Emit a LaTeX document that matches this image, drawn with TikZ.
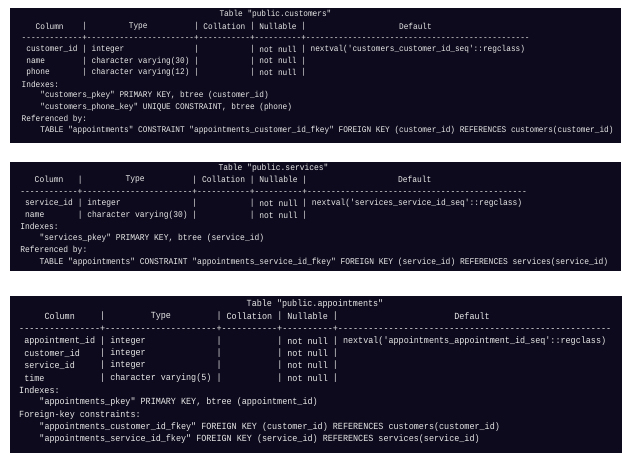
\documentclass[tikz,border=0pt]{standalone}
\usepackage{fontspec}
\setmonofont{Liberation Mono}[FakeStretch=0.9]
\ExplSyntaxOn
\cs_new_eq:NN \rep \prg_replicate:nn
\ExplSyntaxOff
\definecolor{termbg}{HTML}{0C0A1C}
\definecolor{termfg}{HTML}{EAEAEA}
\newcounter{nn}
\newcommand\xo{0}\newcommand\yo{0}\newcommand\lh{0}\newcommand\cw{0}\newcommand\fs{8}
\newcommand\T[3]{\stepcounter{nn}\node[txt] (n\arabic{nn}) at ({\xo+#1*\cw},{\yo+#2*\lh}) {#3};}
\newcommand\C[3]{\stepcounter{nn}\node[txt,anchor=center] (n\arabic{nn}) at ({\xo+#1*\cw},{\yo+#2*\lh}) {#3};}
\newcommand\Pipes[5]{\T{#1}{#5}{|}\T{#2}{#5}{|}\T{#3}{#5}{|}\T{#4}{#5}{|}}
\begin{document}
\begin{tikzpicture}[x=1pt,y=-1pt,
  txt/.style={anchor=west,inner sep=0pt,text=termfg,font=\ttfamily\fontsize{\fs}{\fs}\selectfont},
  panel/.style={fill=termbg,draw=none}]
\useasboundingbox (0,0) rectangle (632,463);
\fill[white] (0,0) rectangle (632,463);
% ---------- panel 1
\node[panel,minimum width=611pt,minimum height=135pt,inner sep=0pt] (p1) at (315.5,75.5) {};
\renewcommand\xo{21.5}\renewcommand\yo{14.5}\renewcommand\lh{11.6}\renewcommand\cw{4.66}\renewcommand\fs{8.63}
\C{54.5}{0}{Table "public.customers"}
\T{3}{1}{Column}\T{23}{1}{Type}\T{39}{1}{Collation}\T{51}{1}{Nullable}\T{81}{1}{Default}
\Pipes{13}{37}{49}{60}{1}
\T{0}{2}{\rep{13}{-}+\rep{23}{-}+\rep{11}{-}+\rep{10}{-}+\rep{48}{-}}
\T{1}{3}{customer\_id}\T{15}{3}{integer}\T{51}{3}{not null}\T{62}{3}{nextval('customers\_customer\_id\_seq'::regclass)}
\Pipes{13}{37}{49}{60}{3}
\T{1}{4}{name}\T{15}{4}{character varying(30)}\T{51}{4}{not null}
\Pipes{13}{37}{49}{60}{4}
\T{1}{5}{phone}\T{15}{5}{character varying(12)}\T{51}{5}{not null}
\Pipes{13}{37}{49}{60}{5}
\T{0}{6}{Indexes:}
\T{4}{7}{"customers\_pkey" PRIMARY KEY, btree (customer\_id)}
\T{4}{8}{"customers\_phone\_key" UNIQUE CONSTRAINT, btree (phone)}
\T{0}{9}{Referenced by:}
\T{4}{10}{TABLE "appointments" CONSTRAINT "appointments\_customer\_id\_fkey" FOREIGN KEY (customer\_id) REFERENCES customers(customer\_id)}
% ---------- panel 2
\node[panel,minimum width=611pt,minimum height=109pt,inner sep=0pt] (p2) at (315.5,216.5) {};
\renewcommand\xo{20.2}\renewcommand\yo{168}\renewcommand\lh{11.75}\renewcommand\cw{4.78}\renewcommand\fs{8.85}
\C{53}{0}{Table "public.services"}
\T{3}{1}{Column}\T{22}{1}{Type}\T{38}{1}{Collation}\T{50}{1}{Nullable}\T{79}{1}{Default}
\Pipes{12}{36}{48}{59}{1}
\T{0}{2}{\rep{12}{-}+\rep{23}{-}+\rep{11}{-}+\rep{10}{-}+\rep{46}{-}}
\T{1}{3}{service\_id}\T{14}{3}{integer}\T{50}{3}{not null}\T{61}{3}{nextval('services\_service\_id\_seq'::regclass)}
\Pipes{12}{36}{48}{59}{3}
\T{1}{4}{name}\T{14}{4}{character varying(30)}\T{50}{4}{not null}
\Pipes{12}{36}{48}{59}{4}
\T{0}{5}{Indexes:}
\T{4}{6}{"services\_pkey" PRIMARY KEY, btree (service\_id)}
\T{0}{7}{Referenced by:}
\T{4}{8}{TABLE "appointments" CONSTRAINT "appointments\_service\_id\_fkey" FOREIGN KEY (service\_id) REFERENCES services(service\_id)}
% ---------- panel 3
\node[panel,minimum width=612pt,minimum height=157pt,inner sep=0pt] (p3) at (316,374.5) {};
\renewcommand\xo{19}\renewcommand\yo{304}\renewcommand\lh{12.3}\renewcommand\cw{5.06}\renewcommand\fs{9.37}
\C{58.5}{0}{Table "public.appointments"}
\T{5}{1}{Column}\T{26}{1}{Type}\T{41}{1}{Collation}\T{53}{1}{Nullable}\T{86}{1}{Default}
\Pipes{16}{39}{51}{62}{1}
\T{0}{2}{\rep{16}{-}+\rep{22}{-}+\rep{11}{-}+\rep{10}{-}+\rep{54}{-}}
\T{1}{3}{appointment\_id}\T{18}{3}{integer}\T{53}{3}{not null}\T{64}{3}{nextval('appointments\_appointment\_id\_seq'::regclass)}
\Pipes{16}{39}{51}{62}{3}
\T{1}{4}{customer\_id}\T{18}{4}{integer}\T{53}{4}{not null}
\Pipes{16}{39}{51}{62}{4}
\T{1}{5}{service\_id}\T{18}{5}{integer}\T{53}{5}{not null}
\Pipes{16}{39}{51}{62}{5}
\T{1}{6}{time}\T{18}{6}{character varying(5)}\T{53}{6}{not null}
\Pipes{16}{39}{51}{62}{6}
\T{0}{7}{Indexes:}
\T{4}{8}{"appointments\_pkey" PRIMARY KEY, btree (appointment\_id)}
\T{0}{9}{Foreign-key constraints:}
\T{4}{10}{"appointments\_customer\_id\_fkey" FOREIGN KEY (customer\_id) REFERENCES customers(customer\_id)}
\T{4}{11}{"appointments\_service\_id\_fkey" FOREIGN KEY (service\_id) REFERENCES services(service\_id)}
\end{tikzpicture}
\end{document}
